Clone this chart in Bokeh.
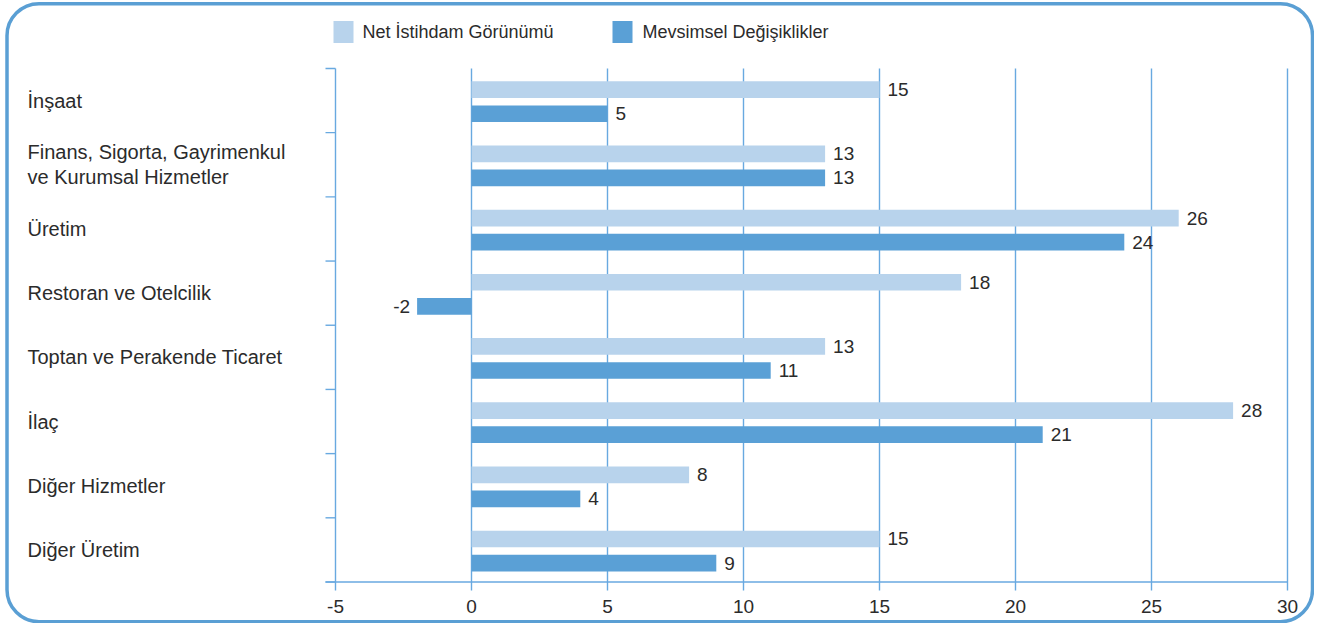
from bokeh.plotting import figure
from bokeh.models import Range1d, BoxAnnotation
from bokeh.core.properties import value
from bokeh.embed import file_html
from bokeh.resources import INLINE

categories = ["İnşaat", "Finans, Sigorta, Gayrimenkul\nve Kurumsal Hizmetler", "Üretim",
              "Restoran ve Otelcilik", "Toptan ve Perakende Ticaret", "İlaç",
              "Diğer Hizmetler", "Diğer Üretim"]
net = [15, 13, 26, 18, 13, 28, 8, 15]
seasonal = [5, 13, 24, -2, 11, 21, 4, 9]
series_names = ["Net İstihdam Görünümü", "Mevsimsel Değişiklikler"]
x_ticks = [-5, 0, 5, 10, 15, 20, 25, 30]

LIGHT = "#b8d3ec"
DARK = "#5aa0d6"
GRID = "#68a9e0"
TXT = "#2b2b2b"
FONT = value("Liberation Sans")

# pixel position -> data helpers
def X(px):
    return (px - 471) / 27.2

def Y(py):
    return (581.5 - py) / 64.19

W, H = 1314, 623
p = figure(width=W, height=H, output_backend="svg", toolbar_location=None,
           x_range=Range1d(X(0), X(W)), y_range=Range1d(Y(H), Y(0)),
           x_axis_location=None, y_axis_location=None, min_border=0)
p.outline_line_color = None
p.grid.visible = False
p.background_fill_color = "white"

n = len(categories)
centers = [n - 0.5 - i for i in range(n)]

# grid lines / axis lines
p.multi_line([[t, t] for t in x_ticks], [[Y(590), n] for t in x_ticks],
             line_color=GRID, line_width=1.4)
p.multi_line([[X(325), x_ticks[0]] for k in range(n + 1)], [[k, k] for k in range(n + 1)],
             line_color=GRID, line_width=1.4)
p.line([X(325), x_ticks[-1]], [0, 0], line_color=GRID, line_width=1.4)

# bars
yl = [c + 0.17 for c in centers]
yd = [c - 0.205 for c in centers]
p.hbar(y=yl, left=0, right=net, height=0.26, fill_color=LIGHT, line_color=None)
p.hbar(y=yd, left=0, right=seasonal, height=0.26, fill_color=DARK, line_color=None)

VFS = "19px"

def vlabels(ys, vals):
    pos = [(y, v) for y, v in zip(ys, vals) if v >= 0]
    neg = [(y, v) for y, v in zip(ys, vals) if v < 0]
    if pos:
        p.text(x=[v for _, v in pos], y=[y for y, _ in pos], text=[str(v) for _, v in pos],
               x_offset=8, text_align="left", text_baseline="middle",
               text_font=FONT, text_font_size=VFS, text_color=TXT)
    if neg:
        p.text(x=[v for _, v in neg], y=[y for y, _ in neg], text=[str(v) for _, v in neg],
               x_offset=-7, text_align="right", text_baseline="middle",
               text_font=FONT, text_font_size=VFS, text_color=TXT)

vlabels(yl, net)
vlabels(yd, seasonal)

# category labels
p.text(x=[X(27)] * n, y=centers, text=categories, text_align="left", text_baseline="middle",
       text_font=FONT, text_font_size="20px", text_color=TXT, text_line_height=1.15)

# x tick labels
p.text(x=x_ticks, y=[Y(605.5)] * len(x_ticks), text=[str(t) for t in x_ticks],
       text_align="center", text_baseline="middle",
       text_font=FONT, text_font_size=VFS, text_color=TXT)

# legend
p.rect(x=[X(343), X(622)], y=[Y(31.5)] * 2, width=20, height=22,
       width_units="screen", height_units="screen", fill_color=[LIGHT, DARK], line_color=None)
p.text(x=[X(362), X(642)], y=[Y(31.5)] * 2, text=series_names, text_align="left",
       text_baseline="middle", text_font=FONT, text_font_size="18px", text_color=TXT)

# rounded border
p.add_layout(BoxAnnotation(left=X(6.5), right=X(1312), top=Y(3.2), bottom=Y(621.2),
                           fill_alpha=0, fill_color=None, line_color="#5a9fd4", line_alpha=1.0,
                           line_width=3.5, border_radius=32, level="overlay"))

open("out.html", "w").write(file_html(p, INLINE))
